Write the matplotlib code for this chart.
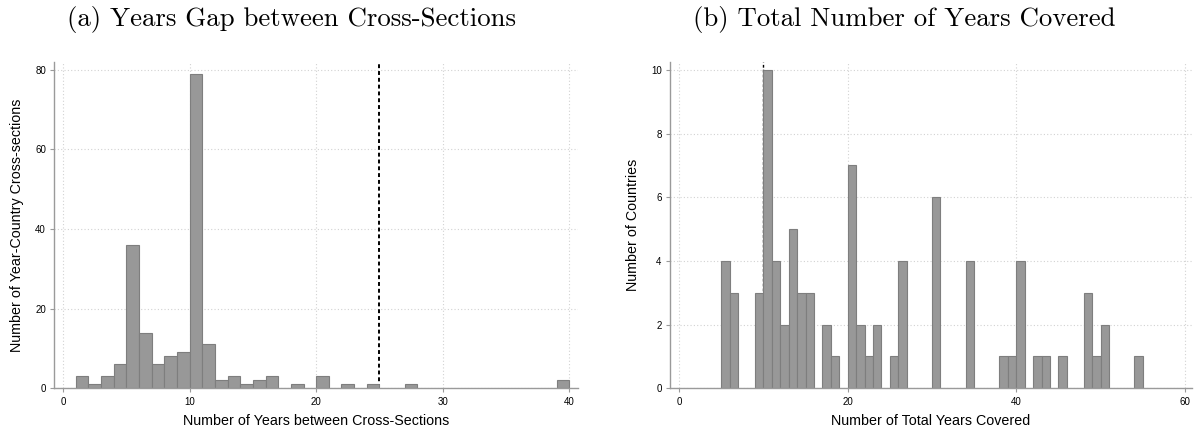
import numpy as np
import matplotlib
matplotlib.use("Agg")
import matplotlib.pyplot as plt

plt.rcParams['font.family'] = ['Liberation Sans', 'DejaVu Sans']

# (a) gap in years between cross-sections, bins of width 1
gap_left = [1, 2, 3, 4, 5, 6, 7, 8, 9, 10, 11, 12, 13, 14, 15, 16, 18, 20, 22, 24, 27, 39]
gap_count = [3, 1, 3, 6, 36, 14, 6, 8, 9, 79, 11, 2, 3, 1, 2, 3, 1, 3, 1, 1, 1, 2]
gap_cut = 25

# (b) total number of years covered, bins of width 1
cov_left = [5, 6, 9, 10, 11, 12, 13, 14, 15, 17, 18, 20, 21, 22, 23, 25, 26, 30, 34,
            38, 39, 40, 42, 43, 45, 48, 49, 50, 54]
cov_count = [4, 3, 3, 10, 4, 2, 5, 3, 3, 2, 1, 7, 2, 1, 2, 1, 4, 6, 4,
             1, 1, 4, 1, 1, 1, 3, 1, 2, 1]
cov_cut = 10

bar_fc = '#989898'
bar_ec = '#7e7e7e'
grid_c = '#d2d2d2'
spine_c = '#9a9a9a'
title_font = 'cmr10'


def style(ax, xticks, yticks, xlim, ylim, xlabel, ylabel):
    ax.set_xlim(*xlim)
    ax.set_ylim(*ylim)
    ax.set_xticks(xticks)
    ax.set_yticks(yticks)
    ax.grid(True, color=grid_c, linestyle=(0, (1, 2)), linewidth=0.8)
    ax.set_axisbelow(True)
    for s in ['top', 'right']:
        ax.spines[s].set_visible(False)
    for s in ['left', 'bottom']:
        ax.spines[s].set_color(spine_c)
        ax.spines[s].set_linewidth(1.0)
    ax.tick_params(axis='both', colors=spine_c, labelcolor='black',
                   length=3, width=0.8, labelsize=7, pad=3)
    ax.set_xlabel(xlabel, fontsize=10.3, labelpad=5)
    ax.set_ylabel(ylabel, fontsize=10.3, labelpad=8)


fig = plt.figure(figsize=(11.96, 4.32), dpi=100)

ax1 = fig.add_axes([0.0454, 0.1012, 0.4379, 0.756])
ax1.axvline(gap_cut, color='black', linestyle=(0, (2, 1.5)), linewidth=1.4, zorder=1)
ax1.bar(gap_left, gap_count, width=1, align='edge', color=bar_fc,
        edgecolor=bar_ec, linewidth=0.8, zorder=2)
style(ax1, [0, 10, 20, 30, 40], [0, 20, 40, 60, 80], (-0.7, 40.7), (0, 82),
      'Number of Years between Cross-Sections', 'Number of Year-Country Cross-sections')

ax2 = fig.add_axes([0.5602, 0.1012, 0.4362, 0.756])
ax2.axvline(cov_cut, color='black', linestyle=(0, (2, 1.5)), linewidth=1.0, zorder=1)
ax2.bar(cov_left, cov_count, width=1, align='edge', color=bar_fc,
        edgecolor=bar_ec, linewidth=0.8, zorder=2)
style(ax2, [0, 20, 40, 60], [0, 2, 4, 6, 8, 10], (-1.07, 60.8), (0, 10.26),
      'Number of Total Years Covered', 'Number of Countries')

fig.text(0.244, 0.954, '(a) Years Gap between Cross-Sections', fontfamily=title_font,
         fontsize=19.3, ha='center', va='center')
fig.text(0.756, 0.954, '(b) Total Number of Years Covered', fontfamily=title_font,
         fontsize=19.3, ha='center', va='center')

fig.savefig('out.png', dpi=100)
